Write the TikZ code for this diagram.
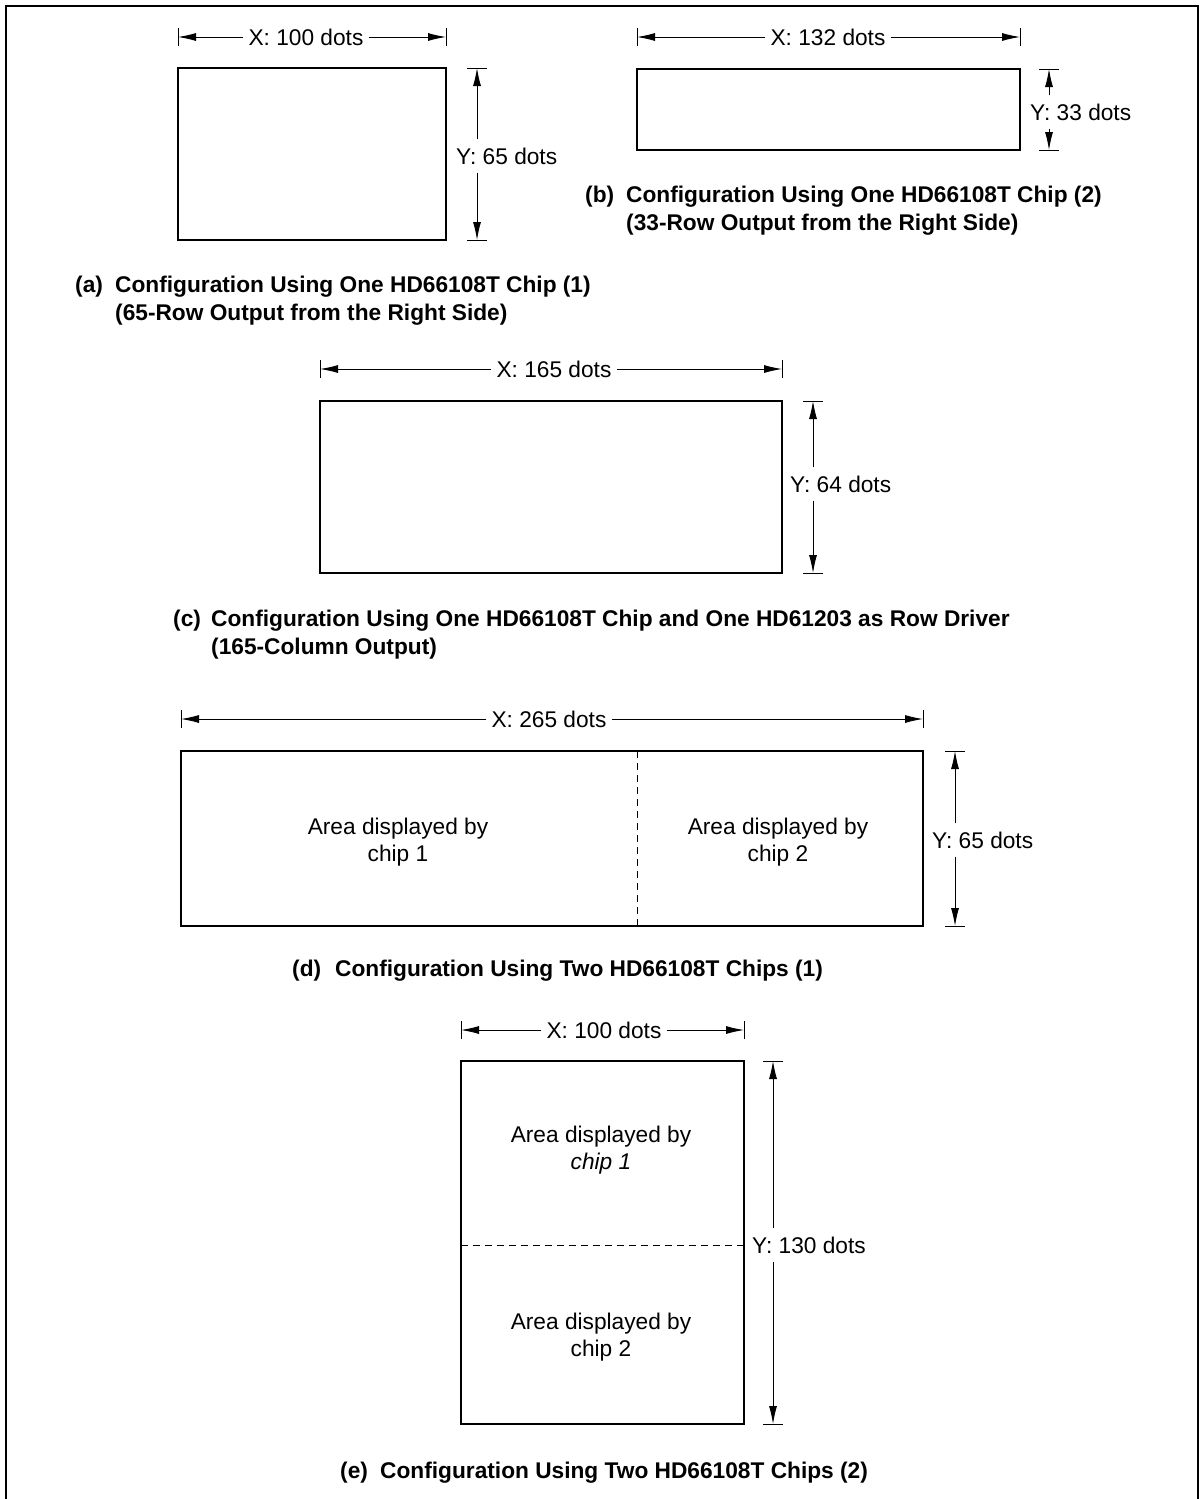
\documentclass[tikz,border=0pt]{standalone}
\usepackage{fontspec}
\setmainfont{Liberation Sans}
\usetikzlibrary{arrows.meta}
\begin{document}
\begin{tikzpicture}[x=1pt,y=-1pt,
  box/.style={draw,line width=1.8pt},
  dimline/.style={line width=0.9pt,-{Latex[length=18pt,width=8pt]}},
  tickmark/.style={line width=0.9pt},
  dimtext/.style={font=\fontsize{22.7}{27}\selectfont,inner xsep=5pt,inner ysep=8pt},
  captext/.style={font=\bfseries\fontsize{22.7}{28}\selectfont,anchor=base west,inner sep=0pt},
  areatext/.style={font=\fontsize{22.7}{27}\selectfont,align=center},
  divider/.style={line width=1pt,dash pattern=on 7pt off 5pt},
  frameline/.style={line width=2pt}]
\useasboundingbox (0,0) rectangle (1204,1499);
% frame
\coordinate (f1) at (6,1499);
\coordinate (f2) at (6,6);
\coordinate (f3) at (1198,6);
\coordinate (f4) at (1198,1499);
\draw[frameline] (f1) -- (f2) -- (f3) -- (f4);

% ---------- (a)
\coordinate (a1) at (178,68);
\coordinate (a2) at (446,240);
\draw[box] (a1) rectangle (a2);
\coordinate (axl) at (178,37);
\coordinate (axr) at (446,37);
\node[dimtext] (axt) at (306,37) {X: 100 dots};
\draw[dimline] (axt.west) -- (axl);
\draw[dimline] (axt.east) -- (axr);
\draw[tickmark] ([yshift=-9pt]axl) -- ([yshift=9pt]axl);
\draw[tickmark] ([yshift=-9pt]axr) -- ([yshift=9pt]axr);
\coordinate (ayt) at (477,68);
\coordinate (ayb) at (477,240);
\node[dimtext,anchor=west] (ayl) at (451,156) {Y: 65 dots};
\draw[dimline] (ayl.north -| ayt) -- (ayt);
\draw[dimline] (ayl.south -| ayb) -- (ayb);
\draw[tickmark] ([xshift=-10pt]ayt) -- ([xshift=10pt]ayt);
\draw[tickmark] ([xshift=-10pt]ayb) -- ([xshift=10pt]ayb);
\node[captext] (capa) at (75,292) {(a)};
\node[captext] (capa1) at (115,292) {Configuration Using One HD66108T Chip (1)};
\node[captext] (capa2) at (115,320) {(65-Row Output from the Right Side)};

% ---------- (b)
\coordinate (b1) at (637,69);
\coordinate (b2) at (1020,150);
\draw[box] (b1) rectangle (b2);
\coordinate (bxl) at (637,37);
\coordinate (bxr) at (1020,37);
\node[dimtext] (bxt) at (828,37) {X: 132 dots};
\draw[dimline] (bxt.west) -- (bxl);
\draw[dimline] (bxt.east) -- (bxr);
\draw[tickmark] ([yshift=-9pt]bxl) -- ([yshift=9pt]bxl);
\draw[tickmark] ([yshift=-9pt]bxr) -- ([yshift=9pt]bxr);
\coordinate (byt) at (1049,69);
\coordinate (byb) at (1049,150);
\node[dimtext,anchor=west] (byl) at (1025,112) {Y: 33 dots};
\draw[dimline] (byl.north -| byt) -- (byt);
\draw[dimline] (byl.south -| byb) -- (byb);
\draw[tickmark] ([xshift=-10pt]byt) -- ([xshift=10pt]byt);
\draw[tickmark] ([xshift=-10pt]byb) -- ([xshift=10pt]byb);
\node[captext] (capb) at (585,202) {(b)};
\node[captext] (capb1) at (626,202) {Configuration Using One HD66108T Chip (2)};
\node[captext] (capb2) at (626,230) {(33-Row Output from the Right Side)};

% ---------- (c)
\coordinate (c1) at (320,401);
\coordinate (c2) at (782,573);
\draw[box] (c1) rectangle (c2);
\coordinate (cxl) at (320,369);
\coordinate (cxr) at (782,369);
\node[dimtext] (cxt) at (554,369) {X: 165 dots};
\draw[dimline] (cxt.west) -- (cxl);
\draw[dimline] (cxt.east) -- (cxr);
\draw[tickmark] ([yshift=-9pt]cxl) -- ([yshift=9pt]cxl);
\draw[tickmark] ([yshift=-9pt]cxr) -- ([yshift=9pt]cxr);
\coordinate (cyt) at (813,401);
\coordinate (cyb) at (813,573);
\node[dimtext,anchor=west] (cyl) at (785,484) {Y: 64 dots};
\draw[dimline] (cyl.north -| cyt) -- (cyt);
\draw[dimline] (cyl.south -| cyb) -- (cyb);
\draw[tickmark] ([xshift=-10pt]cyt) -- ([xshift=10pt]cyt);
\draw[tickmark] ([xshift=-10pt]cyb) -- ([xshift=10pt]cyb);
\node[captext] (capc) at (173,626) {(c)};
\node[captext] (capc1) at (211,626) {Configuration Using One HD66108T Chip and One HD61203 as Row Driver};
\node[captext] (capc2) at (211,654) {(165-Column Output)};

% ---------- (d)
\coordinate (d1) at (181,751);
\coordinate (d2) at (923,926);
\draw[box] (d1) rectangle (d2);
\coordinate (dm1) at (637,751);
\coordinate (dm2) at (637,926);
\draw[divider] (dm1) -- (dm2);
\coordinate (dxl) at (181,719);
\coordinate (dxr) at (923,719);
\node[dimtext] (dxt) at (549,719) {X: 265 dots};
\draw[dimline] (dxt.west) -- (dxl);
\draw[dimline] (dxt.east) -- (dxr);
\draw[tickmark] ([yshift=-9pt]dxl) -- ([yshift=9pt]dxl);
\draw[tickmark] ([yshift=-9pt]dxr) -- ([yshift=9pt]dxr);
\coordinate (dyt) at (955,751);
\coordinate (dyb) at (955,926);
\node[dimtext,anchor=west] (dyl) at (927,840) {Y: 65 dots};
\draw[dimline] (dyl.north -| dyt) -- (dyt);
\draw[dimline] (dyl.south -| dyb) -- (dyb);
\draw[tickmark] ([xshift=-10pt]dyt) -- ([xshift=10pt]dyt);
\draw[tickmark] ([xshift=-10pt]dyb) -- ([xshift=10pt]dyb);
\node[areatext] (da1) at (398,842) {Area displayed by\\chip 1};
\node[areatext] (da2) at (778,842) {Area displayed by\\chip 2};
\node[captext] (capd) at (292,976) {(d)};
\node[captext] (capd1) at (335,976) {Configuration Using Two HD66108T Chips (1)};

% ---------- (e)
\coordinate (e1) at (461,1061);
\coordinate (e2) at (744,1424);
\draw[box] (e1) rectangle (e2);
\coordinate (em1) at (461,1245);
\coordinate (em2) at (744,1245);
\draw[divider] (em1) -- (em2);
\coordinate (exl) at (461,1030);
\coordinate (exr) at (744,1030);
\node[dimtext] (ext) at (604,1030) {X: 100 dots};
\draw[dimline] (ext.west) -- (exl);
\draw[dimline] (ext.east) -- (exr);
\draw[tickmark] ([yshift=-9pt]exl) -- ([yshift=9pt]exl);
\draw[tickmark] ([yshift=-9pt]exr) -- ([yshift=9pt]exr);
\coordinate (eyt) at (773,1061);
\coordinate (eyb) at (773,1424);
\node[dimtext,anchor=west] (eyl) at (747,1245) {Y: 130 dots};
\draw[dimline] (eyl.north -| eyt) -- (eyt);
\draw[dimline] (eyl.south -| eyb) -- (eyb);
\draw[tickmark] ([xshift=-10pt]eyt) -- ([xshift=10pt]eyt);
\draw[tickmark] ([xshift=-10pt]eyb) -- ([xshift=10pt]eyb);
\node[areatext] (ea1) at (601,1150) {Area displayed by\\\textit{chip 1}};
\node[areatext] (ea2) at (601,1337) {Area displayed by\\chip 2};
\node[captext] (cape) at (340,1478) {(e)};
\node[captext] (cape1) at (380,1478) {Configuration Using Two HD66108T Chips (2)};
\end{tikzpicture}
\end{document}
